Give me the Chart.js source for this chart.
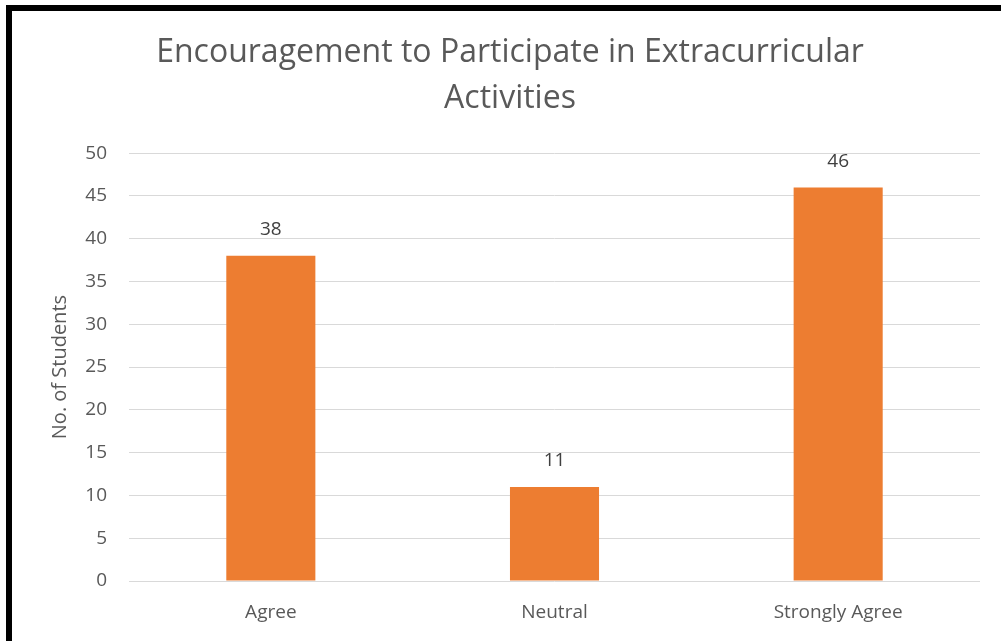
<!DOCTYPE html>
<html>
<head>
<meta charset="utf-8">
<script src="https://cdn.jsdelivr.net/npm/chart.js@4"></script>
<style>
  html, body { margin: 0; padding: 0; background: #fff; }
  #wrap { position: relative; width: 1001px; height: 641px; }
  #frame {
    position: absolute; left: 6px; top: 5px; width: 1010px; height: 630px;
    border-left: 6px solid #000; border-top: 6px solid #000; border-bottom: 2px solid #000;
    pointer-events: none;
  }
</style>
</head>
<body>
<div id="wrap">
  <canvas id="chart" width="1001" height="641"></canvas>
  <div id="frame"></div>
</div>
<script>
// chart data
const categories = ['Agree', 'Neutral', 'Strongly Agree'];
const students = [38, 11, 46];
const yTicks = [0, 5, 10, 15, 20, 25, 30, 35, 40, 45, 50];

const textColor = '#595959';
const fontFamily = 'Open Sans';

// draws the value above each bar (like Excel data labels)
const valueLabels = {
  id: 'valueLabels',
  afterDatasetsDraw(chart) {
    const ctx = chart.ctx;
    const meta = chart.getDatasetMeta(0);
    ctx.save();
    ctx.font = '19px "' + fontFamily + '"';
    ctx.fillStyle = '#404040';
    ctx.textAlign = 'center';
    ctx.textBaseline = 'middle';
    meta.data.forEach((bar, i) => {
      ctx.fillText(String(students[i]), bar.x, bar.y - 26);
    });
    ctx.restore();
  }
};

const ctx = document.getElementById('chart').getContext('2d');
const chart = new Chart(ctx, {
  type: 'bar',
  data: {
    labels: categories,
    datasets: [{
      label: 'No. of Students',
      data: students,
      backgroundColor: '#ED7D31',
      borderWidth: 0,
      categoryPercentage: 1,
      barPercentage: 0.314
    }]
  },
  options: {
    responsive: false,
    animation: false,
    layout: { padding: { left: 40, right: 21, top: 0, bottom: 0 } },
    scales: {
      x: {
        grid: { display: false },
        border: { display: false },
        ticks: {
          color: textColor,
          padding: 12,
          font: { family: fontFamily, size: 19 }
        },
        afterFit(scale) { scale.height = 60; }
      },
      y: {
        min: 0,
        max: 50,
        afterBuildTicks(scale) { scale.ticks = yTicks.map(v => ({ value: v })); },
        grid: { color: '#d9d9d9', lineWidth: 1, drawTicks: false },
        border: { display: false },
        ticks: {
          color: textColor,
          padding: 22,
          font: { family: fontFamily, size: 19 }
        },
        title: {
          display: true,
          text: 'No. of Students',
          color: textColor,
          padding: { top: 8, bottom: 0 },
          font: { family: fontFamily, size: 20 }
        },
        afterFit(scale) { scale.width = 89; }
      }
    },
    plugins: {
      legend: { display: false },
      tooltip: { enabled: false },
      title: {
        display: true,
        text: ['Encouragement to Participate in Extracurricular', 'Activities'],
        color: textColor,
        padding: { top: 30, bottom: 31 },
        font: { family: fontFamily, size: 32, weight: 'normal', lineHeight: 1.44 }
      }
    }
  },
  plugins: [valueLabels]
});
</script>
</body>
</html>
